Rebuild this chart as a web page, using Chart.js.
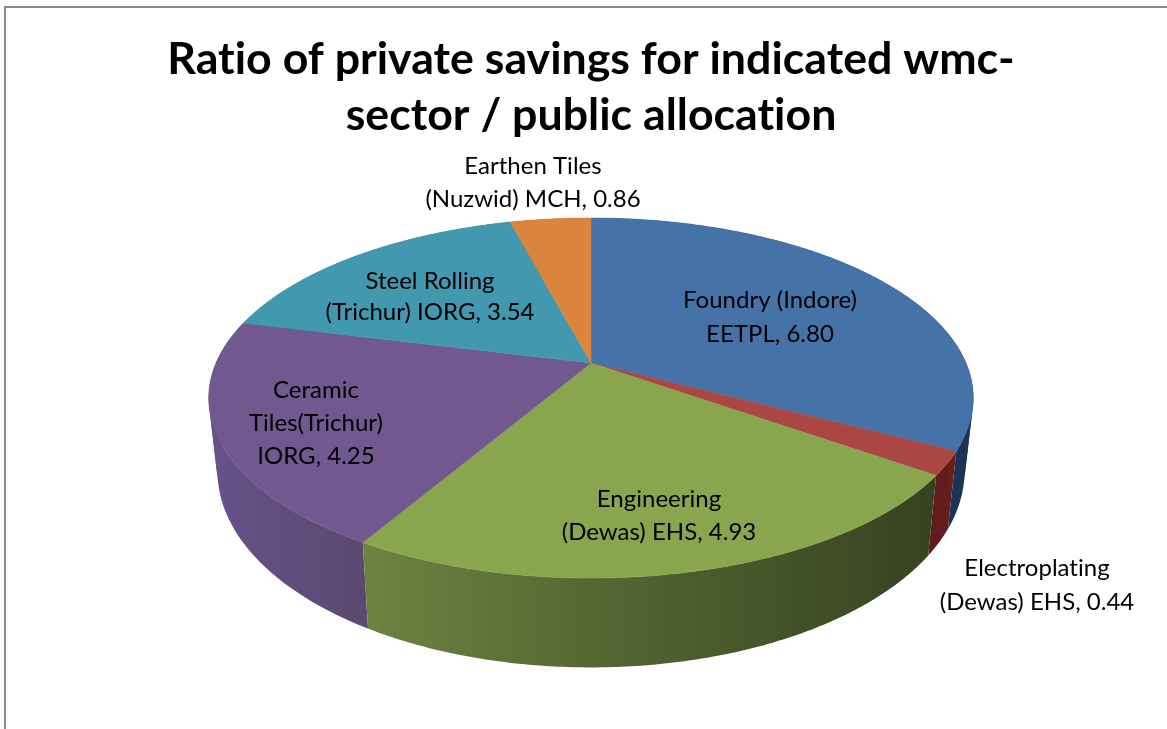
<!DOCTYPE html>
<html>
<head>
<meta charset="utf-8">
<style>
    html, body { margin: 0; padding: 0; background: #fff; }
    canvas { display: block; }
</style>
<script src="https://cdn.jsdelivr.net/npm/chart.js@4"></script>
</head>
<body>
<canvas id="pie" width="1167" height="729"></canvas>
<script>
    const titleLines = ['Ratio of private savings for indicated wmc-', 'sector / public allocation'];
    const categories = ['Foundry (Indore) EETPL', 'Electroplating (Dewas) EHS', 'Engineering (Dewas) EHS',
        'Ceramic Tiles(Trichur) IORG', 'Steel Rolling (Trichur) IORG', 'Earthen Tiles (Nuzwid) MCH'];
    const values = [6.80, 0.44, 4.93, 4.25, 3.54, 0.86];
    const topColors = ['#4572a7', '#aa4643', '#89a54e', '#71588f', '#4198af', '#db843d'];
    // left, middle and right colour of the outer wall of each slice
    const wallColors = [['#2a4a75', '#1f3a5f', '#1b3354'], ['#5e1b1a', '#621c1b', '#6a1f1d'], ['#6d8340', '#4f6130', '#374220'],
        ['#68528a', '#614d7d', '#5b4970'], ['#2b6d80', '#286575', '#245c6c'], ['#a8632c', '#9b5b28', '#8f5425']];
    const labelLines = [
        ['Foundry (Indore)', 'EETPL, 6.80'],
        ['Electroplating', '(Dewas) EHS, 0.44'],
        ['Engineering', '(Dewas) EHS, 4.93'],
        ['Ceramic', 'Tiles(Trichur)', 'IORG, 4.25'],
        ['Steel Rolling', '(Trichur) IORG, 3.54'],
        ['Earthen Tiles', '(Nuzwid) MCH, 0.86']
    ];
    const labelSpots = [[770, 300, 34], [1037, 568, 34], [659, 499, 33], [316, 390, 33], [430, 281, 31], [533, 166, 33]];

    // perspective of the tilted disc
    const TILT = 0.1944, FLATTEN = 0.462;
    // the lower rim is the top rim moved and stretched
    const WALL_X = 0.977, WALL_Y = 1.09, WALL_DROP = 70;

    function rimPoint(el, a) {
        const w = 1 / (1 - TILT * Math.sin(a));
        return {
            x: el.x + el.outerRadius * Math.cos(a) * w,
            y: el.y + el.outerRadius * FLATTEN * Math.sin(a) * w
        };
    }
    function lowerPoint(el, p) {
        return { x: el.x + (p.x - el.x) * WALL_X, y: el.y + WALL_DROP + (p.y - el.y) * WALL_Y };
    }
    function arcPoints(el) {
        const pts = [];
        const n = Math.max(2, Math.ceil((el.endAngle - el.startAngle) / 0.01));
        for (let i = 0; i <= n; i++) pts.push(rimPoint(el, el.startAngle + (el.endAngle - el.startAngle) * i / n));
        return pts;
    }
    function tracePath(ctx, pts) {
        ctx.beginPath();
        pts.forEach((p, i) => i ? ctx.lineTo(p.x, p.y) : ctx.moveTo(p.x, p.y));
        ctx.closePath();
    }
    // cut the rim where the wall folds over at the sides, so each run fills without cancelling itself
    function wallRuns(el, top) {
        const runs = [];
        let run = [top[0]], last = 0;
        for (let k = 1; k < top.length; k++) {
            const low = lowerPoint(el, top[k]);
            const cross = (top[k].x - top[k - 1].x) * (low.y - top[k].y) - (top[k].y - top[k - 1].y) * (low.x - top[k].x);
            const sign = Math.sign(cross);
            if (last && sign !== last) {
                runs.push(run);
                run = [top[k - 1]];
            }
            run.push(top[k]);
            last = sign;
        }
        runs.push(run);
        return runs;
    }

    const tiltedPie = {
        id: 'tiltedPie',
        beforeDraw(chart) {
            // no ti ligatures in the reference text
            chart.ctx.letterSpacing = '0.01px';
        },
        beforeDatasetDraw(chart, args) {
            const ctx = chart.ctx;
            const els = args.meta.data;
            const order = els.map((el, i) => i).sort((a, b) =>
                Math.sin((els[a].startAngle + els[a].endAngle) / 2) - Math.sin((els[b].startAngle + els[b].endAngle) / 2));

            ctx.save();
            // walls, back to front
            order.forEach(i => {
                const top = arcPoints(els[i]);
                const xs = top.map(p => lowerPoint(els[i], p).x).concat(top.map(p => p.x));
                const g = ctx.createLinearGradient(Math.min(...xs), 0, Math.max(...xs), 0);
                wallColors[i].forEach((c, k) => g.addColorStop(k / 2, c));
                ctx.fillStyle = g;
                wallRuns(els[i], top).forEach(run => {
                    tracePath(ctx, run.concat(run.map(p => lowerPoint(els[i], p)).reverse()));
                    ctx.fill();
                });
            });
            // top of the disc
            els.forEach((el, i) => {
                tracePath(ctx, [{ x: el.x, y: el.y }].concat(arcPoints(el)));
                ctx.fillStyle = el.options.backgroundColor;
                ctx.strokeStyle = el.options.backgroundColor;
                ctx.lineWidth = 0.5;
                ctx.fill();
                ctx.stroke();
            });
            ctx.restore();
            return false;
        },
        afterDraw(chart) {
            const ctx = chart.ctx;
            ctx.save();
            // chart frame, cut off at the right and bottom of the picture
            ctx.strokeStyle = '#8a8a8a';
            ctx.lineWidth = 2;
            ctx.beginPath();
            ctx.moveTo(5, 729);
            ctx.lineTo(5, 7);
            ctx.lineTo(1167, 7);
            ctx.stroke();
            // data labels
            ctx.fillStyle = '#000';
            ctx.font = '24px Lato';
            ctx.textAlign = 'center';
            ctx.textBaseline = 'middle';
            labelLines.forEach((lines, i) => {
                const [x, y, step] = labelSpots[i];
                lines.forEach((t, j) => ctx.fillText(t, x, y + j * step));
            });
            ctx.restore();
        }
    };

    new Chart(document.getElementById('pie'), {
        type: 'pie',
        data: {
            labels: categories,
            datasets: [{ data: values, backgroundColor: topColors, borderWidth: 0, radius: 375 }]
        },
        options: {
            responsive: false,
            animation: false,
            events: [],
            layout: { padding: { left: 15, bottom: 153 } },
            plugins: {
                legend: { display: false },
                tooltip: { enabled: false },
                title: {
                    display: true,
                    text: titleLines,
                    color: '#000',
                    font: { family: 'Lato', size: 44.7, weight: 'bold', lineHeight: 56 / 44.7 },
                    padding: { top: 32, bottom: 6 }
                }
            }
        },
        plugins: [tiltedPie]
    });
</script>
</body>
</html>
